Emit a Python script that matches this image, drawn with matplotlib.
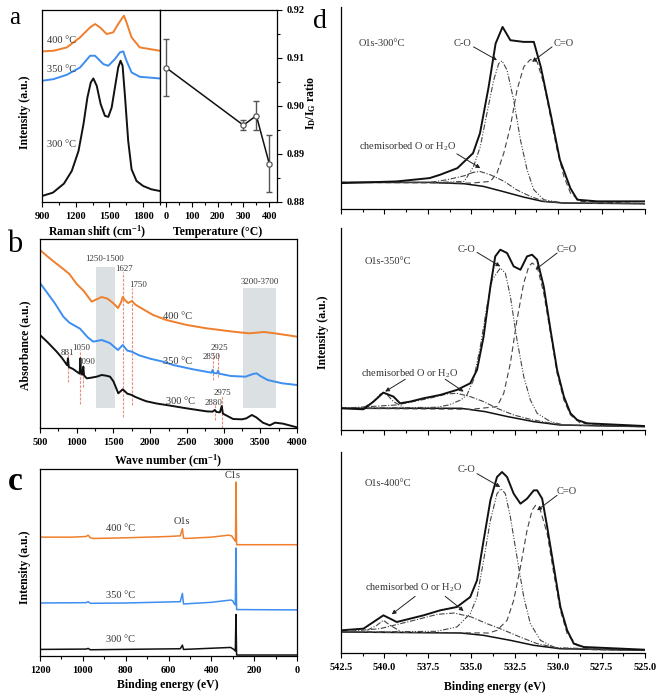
import matplotlib
matplotlib.use('Agg')
import matplotlib.pyplot as plt
from matplotlib.ticker import MultipleLocator, FixedLocator, NullLocator

plt.rcParams['font.family'] = ['Liberation Serif', 'DejaVu Serif']
plt.rcParams['mathtext.fontset'] = 'custom'
plt.rcParams['mathtext.rm'] = 'Liberation Serif'
plt.rcParams['mathtext.it'] = 'Liberation Serif:italic'
plt.rcParams['mathtext.bf'] = 'Liberation Serif:bold'

ORANGE = '#f07f2c'
BLUE = '#3d8ef0'
BLACK = '#111111'
TXT = '#333333'
RED = '#e8907f'
SHADE = '#dbe1e3'

# ---------------- panel a : Raman ----------------
raman_300_x = [900, 997, 1095, 1165, 1225, 1269, 1304, 1334, 1357, 1387, 1422, 1460, 1490, 1520,
               1549, 1578, 1599, 1617, 1637, 1667, 1697, 1741, 1800, 1873, 1947]
raman_300_y = [18, 28, 55, 93, 153, 233, 313, 358, 370, 348, 293, 258, 255, 283,
               343, 403, 423, 408, 323, 183, 98, 63, 48, 38, 33]
raman_350_x = [900, 1003, 1121, 1239, 1328, 1372, 1446, 1490, 1549, 1593, 1623, 1652, 1697, 1770, 1947]
raman_350_y = [363, 368, 381, 403, 438, 438, 413, 408, 428, 448, 451, 423, 388, 375, 370]
raman_400_x = [900, 1003, 1121, 1239, 1328, 1372, 1416, 1475, 1534, 1578, 1608, 1629, 1652, 1697, 1770, 1947]
raman_400_y = [451, 453, 463, 493, 523, 533, 523, 503, 508, 533, 548, 558, 538, 493, 463, 453]

temps = [0, 300, 350, 400]
id_ig = [0.908, 0.896, 0.898, 0.888]
id_ig_err = [0.006, 0.001, 0.003, 0.006]

# ---------------- panel b : FTIR ----------------
ir_400_x = [500, 600, 700, 800, 900, 1000, 1100, 1204, 1270, 1340, 1420, 1500, 1562, 1600, 1627, 1660,
            1700, 1750, 1800, 1860, 2040, 2220, 2500, 2770, 3130, 3350, 3550, 3700, 3850, 4000]
ir_400_y = [534, 515, 497, 480, 462, 432, 410, 379, 386, 393, 388, 374, 360, 375, 393, 383,
            375, 381, 370, 362, 339, 324, 309, 299, 289, 284, 288, 284, 279, 274]
ir_350_x = [500, 600, 700, 818, 900, 1045, 1150, 1226, 1340, 1450, 1562, 1627, 1690, 1750, 1850, 2000,
            2175, 2313, 2585, 2835, 2850, 2865, 2910, 2925, 2940, 3100, 3300, 3400, 3450, 3500, 3600,
            3800, 4000]
ir_350_y = [435, 405, 375, 334, 316, 298, 272, 259, 264, 255, 234, 249, 232, 229, 218, 208,
            199, 189, 176, 166, 174, 165, 164, 172, 163, 156, 154, 162, 164, 156, 144,
            134, 129]
ir_300_x = [500, 600, 727, 800, 870, 881, 892, 950, 1000, 1040, 1050, 1058, 1075, 1090, 1100, 1136,
            1200, 1272, 1340, 1400, 1454, 1500, 1566, 1627, 1690, 1750, 1800, 1900, 1951, 2100,
            2222, 2495, 2767, 2850, 2880, 2905, 2950, 2975, 2990, 3000, 3130, 3250, 3310, 3385,
            3445, 3535, 3630, 3700, 3810, 4000]
ir_300_y = [279, 258, 229, 210, 188, 209, 183, 177, 169, 163, 209, 166, 160, 184, 158, 149,
            151, 154, 159, 157, 154, 140, 104, 116, 103, 99, 93, 84, 80, 73,
            69, 59, 50, 49, 54, 48, 47, 66, 44, 42, 27, 26, 29, 39,
            32, 16, 8, 16, 13, 2]
ir_line_pos = [881, 1050, 1090, 1627, 1750, 2850, 2925, 2880, 2975]
ir_line_low = [138, 72, 123, 33, 69, 144, 154, 24, 0]
ir_line_high = [228, 234, 189, 468, 420, 224, 226, 74, 96]
shade_start = [1260, 3265]
shade_end = [1520, 3710]
shade_low = [60, 59]
shade_high = [483, 419]
ir_peak_labels = ['881', '1050', '1090', '1627', '1750', '2850', '2925', '2975', '2880',
                  '1250-1500', '3200-3700']
ir_peak_label_x = [877, 1067, 1127, 1650, 1830, 2834, 2948, 2984, 2857, 1375, 3490]
ir_peak_label_y = [224, 239, 199, 478, 429, 212, 239, 106, 76, 508, 439]

# ---------------- panel c : XPS survey ----------------
xps_400_x = [1200, 1050, 985, 975, 965, 950, 800, 600, 545, 535, 530, 520, 400, 320, 305, 295,
             287, 285, 282, 270, 0]
xps_400_y = [356, 356, 358, 362, 354, 352, 354, 358, 360, 382, 353, 352, 356, 362, 360, 350,
             343, 523, 333, 333, 333]
xps_350_x = [1200, 985, 975, 965, 800, 545, 535, 530, 400, 310, 300, 295, 288, 285, 282, 0]
xps_350_y = [156, 157, 160, 155, 156, 160, 185, 153, 158, 165, 163, 156, 150, 323, 136, 135]
xps_300_x = [1200, 985, 975, 965, 545, 535, 530, 310, 295, 288, 285, 282, 0]
xps_300_y = [15, 16, 18, 14, 17, 28, 15, 21, 15, 10, 121, -2, -2]

# ---------------- panel d : O1s fits ----------------
d300_data_E = [542.5, 541.2, 539.3, 537.4, 536.8, 535.8, 534.9, 534.5, 534.0, 533.6, 533.2, 532.75,
               532.0, 531.4, 531.0, 530.4, 529.9, 529.3, 528.9, 527.75, 525.0]
d300_data_I = [78, 80, 83, 93, 103, 123, 168, 228, 368, 498, 548, 508,
               503, 503, 428, 278, 148, 63, 28, 23, 23]
d300_bg_E = [542.5, 537.4, 535.4, 534.3, 533.2, 532.0, 530.9, 529.7, 525.0]
d300_bg_I = [80, 80, 76, 68, 53, 36, 23, 18, 16]
d300_co_E = [542.5, 537.0, 535.4, 534.87, 534.48, 534.1, 533.71, 533.42, 533.23, 532.94, 532.56,
             532.17, 531.79, 531.40, 530.83, 529.67, 525.0]
d300_co_I = [80, 80, 83, 128, 188, 288, 388, 438, 446, 418, 328, 208, 118, 58, 28, 18, 16]
d300_cdo_E = [542.5, 535.0, 533.9, 533.52, 533.13, 532.75, 532.37, 531.98, 531.6, 531.21, 530.83,
              530.44, 530.06, 529.67, 529.29, 528.71, 525.0]
d300_cdo_I = [80, 78, 83, 108, 168, 248, 358, 428, 450, 443, 378, 278, 178, 98, 48, 23, 16]
d300_chem_E = [542.5, 537.4, 536.4, 535.4, 534.9, 534.5, 533.9, 533.1, 532.4, 531.6, 530.8, 529.7, 525.0]
d300_chem_I = [80, 80, 88, 100, 110, 113, 103, 83, 58, 38, 23, 18, 16]

d350_data_E = [542.5, 541.21, 540.63, 540.06, 539.48, 539.1, 538.52, 537.75, 536.79, 535.83, 535.06,
               534.67, 534.29, 533.9, 533.62, 533.33, 532.94, 532.56, 532.17, 531.79, 531.5, 531.21,
               530.83, 530.44, 530.06, 529.67, 529.29, 528.9, 528.33, 525.06]
d350_data_I = [65, 62, 85, 112, 100, 80, 85, 95, 105, 120, 140, 180, 280, 430, 520, 540, 530, 490,
               480, 520, 525, 510, 430, 300, 180, 100, 50, 30, 20, 12]
d350_bg_E = [542.5, 535.6, 534.2, 532.9, 531.4, 529.9, 525.0]
d350_bg_I = [65, 65, 55, 40, 25, 15, 10]
d350_co_E = [542.5, 537.0, 536.3, 535.6, 535.25, 534.87, 534.48, 534.1, 533.8, 533.33, 533.04,
             532.75, 532.37, 531.98, 531.6, 531.21, 530.44, 529.67, 525.0]
d350_co_I = [65, 68, 75, 90, 105, 150, 250, 370, 450, 485, 470, 400, 270, 160, 90, 50, 25, 15, 10]
d350_cdo_E = [542.5, 535.0, 533.52, 533.13, 532.75, 532.37, 531.98, 531.69, 531.5, 531.21, 530.83,
              530.44, 530.06, 529.67, 529.29, 528.71, 525.0]
d350_cdo_I = [65, 62, 70, 110, 200, 330, 440, 490, 500, 490, 410, 290, 170, 90, 45, 20, 10]
d350_chem_E = [542.5, 539.3, 537.4, 536.4, 535.83, 535.06, 534.29, 533.52, 532.56, 531.6, 530.6,
               529.67, 525.0]
d350_chem_I = [65, 75, 95, 108, 110, 100, 85, 65, 45, 32, 22, 15, 10]
d350_chem2_E = [541.21, 540.63, 540.25, 540.06, 539.87, 539.48, 538.9]
d350_chem2_I = [67, 85, 107, 112, 107, 85, 68]

d400_data_E = [542.5, 541.21, 540.63, 540.06, 539.67, 539.29, 538.52, 537.75, 536.79, 535.83, 535.06,
               534.67, 534.29, 533.9, 533.52, 533.23, 532.94, 532.56, 532.17, 531.79, 531.4, 531.21,
               530.92, 530.63, 530.25, 529.87, 529.48, 529.1, 528.52, 525.06]
d400_data_I = [68, 73, 93, 113, 103, 93, 103, 113, 128, 138, 168, 218, 338, 458, 528, 543, 528, 478,
               448, 463, 488, 488, 463, 378, 258, 138, 68, 28, 18, 10]
d400_bg_E = [542.5, 535.6, 534.3, 532.75, 531.4, 529.9, 525.0]
d400_bg_I = [63, 60, 53, 38, 23, 13, 8]
d400_co_E = [542.5, 537.0, 535.83, 535.06, 534.67, 534.29, 533.9, 533.52, 533.29, 533.04, 532.75,
             532.37, 531.98, 531.6, 531.02, 530.06, 525.0]
d400_co_I = [63, 65, 78, 118, 168, 278, 398, 478, 493, 478, 408, 288, 168, 88, 38, 13, 8]
d400_cdo_E = [542.5, 534.0, 533.52, 532.94, 532.56, 532.17, 531.79, 531.5, 531.3, 531.02, 530.63,
              530.25, 529.87, 529.48, 528.9, 528.13, 525.0]
d400_cdo_I = [63, 60, 68, 98, 158, 258, 368, 428, 443, 428, 358, 238, 128, 58, 23, 10, 8]
d400_chem_E = [542.5, 540.25, 538.3, 536.95, 535.98, 535.0, 534.1, 533.1, 532.2, 531.2, 530.1, 525.0]
d400_chem_I = [63, 73, 98, 116, 120, 108, 88, 68, 48, 28, 16, 8]
d400_chem2_E = [541.0, 540.44, 540.06, 539.67, 539.1]
d400_chem2_I = [68, 83, 98, 83, 66]

d_titles = ['O1s-300°C', 'O1s-350°C', 'O1s-400°C']

W, H = 661, 697
fig = plt.figure(figsize=(W / 100, H / 100), dpi=100)


def rect(x0, y0, x1, y1):
    return [x0 / W, 1 - y1 / H, (x1 - x0) / W, (y1 - y0) / H]


def style_ticks(ax, fs=7.5):
    ax.tick_params(axis='both', which='both', direction='out', top=False, right=False,
                   labelsize=fs, width=0.8)
    ax.tick_params(which='major', length=3.5)
    ax.tick_params(which='minor', length=2)
    for lab in ax.get_xticklabels() + ax.get_yticklabels():
        lab.set_fontweight('bold')
    for s in ax.spines.values():
        s.set_linewidth(0.9)


# ---- panel a left
axa = fig.add_axes(rect(42, 10, 160, 202))
axa.plot(raman_300_x, raman_300_y, color=BLACK, lw=1.4)
axa.plot(raman_350_x, raman_350_y, color=BLUE, lw=1.4)
axa.plot(raman_400_x, raman_400_y, color=ORANGE, lw=1.4)
axa.set_xlim(900, 1950)
axa.set_ylim(0, 575)
axa.xaxis.set_major_locator(FixedLocator([900, 1200, 1500, 1800]))
axa.xaxis.set_minor_locator(MultipleLocator(150))
axa.yaxis.set_major_locator(NullLocator())
style_ticks(axa)
axa.text(1077, 483, '400 °C', fontsize=7.5, color=TXT, ha='center', va='center')
axa.text(1077, 398, '350 °C', fontsize=7.5, color=TXT, ha='center', va='center')
axa.text(1077, 173, '300 °C', fontsize=7.5, color=TXT, ha='center', va='center')

# ---- panel a right
axr = fig.add_axes(rect(160, 10, 277, 202))
axr.errorbar(temps, id_ig, yerr=id_ig_err, fmt='none', ecolor='#555555', elinewidth=1.0,
             capsize=2.5, capthick=1.0)
axr.plot(temps, id_ig, color=BLACK, lw=1.1, marker='o', ms=3.8, mfc='white', mec='#555555', mew=0.9)
axr.set_xlim(-23, 430)
axr.set_ylim(0.88, 0.92)
axr.xaxis.set_major_locator(MultipleLocator(100))
axr.xaxis.set_minor_locator(MultipleLocator(50))
axr.yaxis.set_major_locator(MultipleLocator(0.01))
axr.yaxis.set_minor_locator(MultipleLocator(0.005))
axr.yaxis.tick_right()
style_ticks(axr)
axr.tick_params(axis='y', which='both', right=True, left=False, labelright=True, labelleft=False)
axr.yaxis.set_major_formatter(plt.FuncFormatter(lambda v, p: f'{v:.2f}'))
for lab in axr.get_yticklabels():
    lab.set_fontweight('bold')

fig.text(97 / W, 1 - 232 / H, r'Raman shift (cm$^{\mathbf{-1}}$)', fontsize=8.5, fontweight='bold',
         ha='center', va='center')
fig.text(218 / W, 1 - 232 / H, 'Temperature (°C)', fontsize=8.5, fontweight='bold',
         ha='center', va='center')
fig.text(25 / W, 1 - 112 / H, 'Intensity (a.u.)', fontsize=8.5, fontweight='bold', rotation=90,
         ha='center', va='center')
fig.text(311 / W, 1 - 103 / H, r'$\mathbf{I_D/I_G}$ ratio', fontsize=8.5, fontweight='bold',
         rotation=90, ha='center', va='center')

# ---- panel b
axb = fig.add_axes(rect(40, 239, 297, 428))
for x0, x1, y0, y1 in zip(shade_start, shade_end, shade_low, shade_high):
    axb.fill_between([x0, x1], [y0, y0], [y1, y1], color=SHADE, lw=0, zorder=0)
for xp, y0, y1 in zip(ir_line_pos, ir_line_low, ir_line_high):
    axb.plot([xp, xp], [y0, y1], color=RED, lw=0.8, ls=(0, (2.5, 1.2)), zorder=1)
axb.plot(ir_400_x, ir_400_y, color=ORANGE, lw=1.4, zorder=2)
axb.plot(ir_350_x, ir_350_y, color=BLUE, lw=1.4, zorder=2)
axb.plot(ir_300_x, ir_300_y, color=BLACK, lw=1.4, zorder=2)
for t, x, y in zip(ir_peak_labels, ir_peak_label_x, ir_peak_label_y):
    axb.text(x, y, t, fontsize=6.3, color=TXT, ha='center', va='center')
axb.text(2380, 333, '400 °C', fontsize=7.5, color=TXT, ha='center', va='center')
axb.text(2380, 198, '350 °C', fontsize=7.5, color=TXT, ha='center', va='center')
axb.text(2410, 78, '300 °C', fontsize=7.5, color=TXT, ha='center', va='center')
axb.set_xlim(500, 4000)
axb.set_ylim(0, 567)
axb.xaxis.set_major_locator(MultipleLocator(500))
axb.xaxis.set_minor_locator(MultipleLocator(250))
axb.yaxis.set_major_locator(NullLocator())
style_ticks(axb)
fig.text(168 / W, 1 - 461 / H, r'Wave number (cm$^{\mathbf{-1}}$)', fontsize=8.5, fontweight='bold',
         ha='center', va='center')
fig.text(25 / W, 1 - 345 / H, 'Absorbance (a.u.)', fontsize=8.5, fontweight='bold', rotation=90,
         ha='center', va='center')

# ---- panel c
axc = fig.add_axes(rect(40, 469, 297, 656))
axc.plot(xps_400_x, xps_400_y, color=ORANGE, lw=1.1)
axc.plot(xps_350_x, xps_350_y, color=BLUE, lw=1.1)
axc.plot(xps_300_x, xps_300_y, color=BLACK, lw=1.1)
axc.set_xlim(1200, 0)
axc.set_ylim(-5, 563)
axc.xaxis.set_major_locator(MultipleLocator(200))
axc.xaxis.set_minor_locator(MultipleLocator(100))
axc.yaxis.set_major_locator(NullLocator())
style_ticks(axc)
axc.text(299, 543, 'C1s', fontsize=7.5, color=TXT, ha='center', va='center')
axc.text(537, 405, 'O1s', fontsize=7.5, color=TXT, ha='center', va='center')
axc.text(826, 381, '400 °C', fontsize=7.5, color=TXT, ha='center', va='center')
axc.text(826, 180, '350 °C', fontsize=7.5, color=TXT, ha='center', va='center')
axc.text(826, 45, '300 °C', fontsize=7.5, color=TXT, ha='center', va='center')
fig.text(168 / W, 1 - 685 / H, 'Binding energy (eV)', fontsize=8.5, fontweight='bold',
         ha='center', va='center')
fig.text(25 / W, 1 - 567 / H, 'Intensity (a.u.)', fontsize=8.5, fontweight='bold', rotation=90,
         ha='center', va='center')

# ---- panel d
GR = '#444444'
d_sets = [
    (d300_data_E, d300_data_I, d300_bg_E, d300_bg_I, d300_co_E, d300_co_I, d300_cdo_E, d300_cdo_I,
     d300_chem_E, d300_chem_I, None, None, 608, rect(341, 7, 645, 209)),
    (d350_data_E, d350_data_I, d350_bg_E, d350_bg_I, d350_co_E, d350_co_I, d350_cdo_E, d350_cdo_I,
     d350_chem_E, d350_chem_I, d350_chem2_E, d350_chem2_I, 605, rect(341, 228, 645, 430)),
    (d400_data_E, d400_data_I, d400_bg_E, d400_bg_I, d400_co_E, d400_co_I, d400_cdo_E, d400_cdo_I,
     d400_chem_E, d400_chem_I, d400_chem2_E, d400_chem2_I, 603, rect(341, 452, 645, 653)),
]
d_title_pos = [(541.5, 498), (541.12, 505), (541.12, 508)]
d_co_text = [(535.48, 498), (535.25, 542), (535.25, 550)]
d_co_tail = [(534.87, 488), (534.67, 532), (534.67, 538)]
d_co_tip = [(533.52, 448), (533.33, 490), (533.33, 498)]
d_cdo_text = [(529.67, 498), (529.48, 540), (529.48, 486)]
d_cdo_tail = [(530.35, 488), (530.06, 530), (530.06, 473)]
d_cdo_tip = [(531.5, 443), (531.31, 480), (531.21, 428)]
d_chem_text = [(538.67, 188), (538.52, 168), (538.33, 196)]
d_chem_tails = [[(535.83, 166)], [(538.8, 152), (536.5, 152)], [(538.23, 170), (536.5, 170)]]
d_chem_tips = [[(534.48, 123)], [(539.96, 115), (535.44, 115)], [(539.58, 116), (535.44, 126)]]

arrow_kw = dict(arrowstyle='-|>', color='#222222', lw=0.7, mutation_scale=6, shrinkA=0, shrinkB=0)
for i, (dE, dI, bE, bI, coE, coI, cdE, cdI, chE, chI, c2E, c2I, ytop, r) in enumerate(d_sets):
    ax = fig.add_axes(r)
    ax.plot(bE, bI, color=BLACK, lw=1.1)
    ax.plot(coE, coI, color=GR, lw=0.8, ls=(0, (5, 1.5, 1, 1.5, 1, 1.5)))
    ax.plot(cdE, cdI, color=GR, lw=0.8, ls=(0, (5, 3)))
    ax.plot(chE, chI, color=GR, lw=0.8, ls=(0, (5, 1.5, 1, 1.5)))
    if c2E is not None:
        ax.plot(c2E, c2I, color=GR, lw=0.8, ls=(0, (5, 1.5, 1, 1.5)))
    ax.plot(dE, dI, color=BLACK, lw=1.4)
    ax.set_xlim(542.5, 525)
    ax.set_ylim(0, ytop)
    ax.spines['top'].set_visible(False)
    ax.spines['right'].set_visible(False)
    ax.xaxis.set_major_locator(MultipleLocator(2.5))
    ax.xaxis.set_minor_locator(MultipleLocator(1.25))
    ax.yaxis.set_major_locator(NullLocator())
    if i < 2:
        ax.tick_params(labelbottom=False)
    else:
        ax.xaxis.set_major_formatter(plt.FuncFormatter(lambda v, p: f'{v:.1f}'))
    style_ticks(ax)
    ax.text(*d_title_pos[i], d_titles[i], fontsize=7.5, color=TXT, ha='left', va='center')
    ax.text(*d_co_text[i], 'C-O', fontsize=7.5, color=TXT, ha='center', va='center')
    ax.annotate('', xy=d_co_tip[i], xytext=d_co_tail[i], arrowprops=arrow_kw)
    ax.text(*d_cdo_text[i], 'C=O', fontsize=7.5, color=TXT, ha='center', va='center')
    ax.annotate('', xy=d_cdo_tip[i], xytext=d_cdo_tail[i], arrowprops=arrow_kw)
    ax.text(*d_chem_text[i], r'chemisorbed O or H$_2$O', fontsize=7.5, color=TXT,
            ha='center', va='center')
    for tail, tip in zip(d_chem_tails[i], d_chem_tips[i]):
        ax.annotate('', xy=tip, xytext=tail, arrowprops=arrow_kw)

fig.text(495 / W, 1 - 687 / H, 'Binding energy (eV)', fontsize=8.5, fontweight='bold',
         ha='center', va='center')
fig.text(323 / W, 1 - 332 / H, 'Intensity (a.u.)', fontsize=8.5, fontweight='bold', rotation=90,
         ha='center', va='center')

# panel letters
fig.text(15 / W, 1 - 18 / H, 'a', fontsize=18, ha='center', va='center')
fig.text(15 / W, 1 - 244 / H, 'b', fontsize=22, ha='center', va='center')
fig.text(15 / W, 1 - 481 / H, 'c', fontsize=24, fontweight='bold', ha='center', va='center')
fig.text(320 / W, 1 - 22 / H, 'd', fontsize=20, ha='center', va='center')

fig.savefig('out.png', dpi=100)
